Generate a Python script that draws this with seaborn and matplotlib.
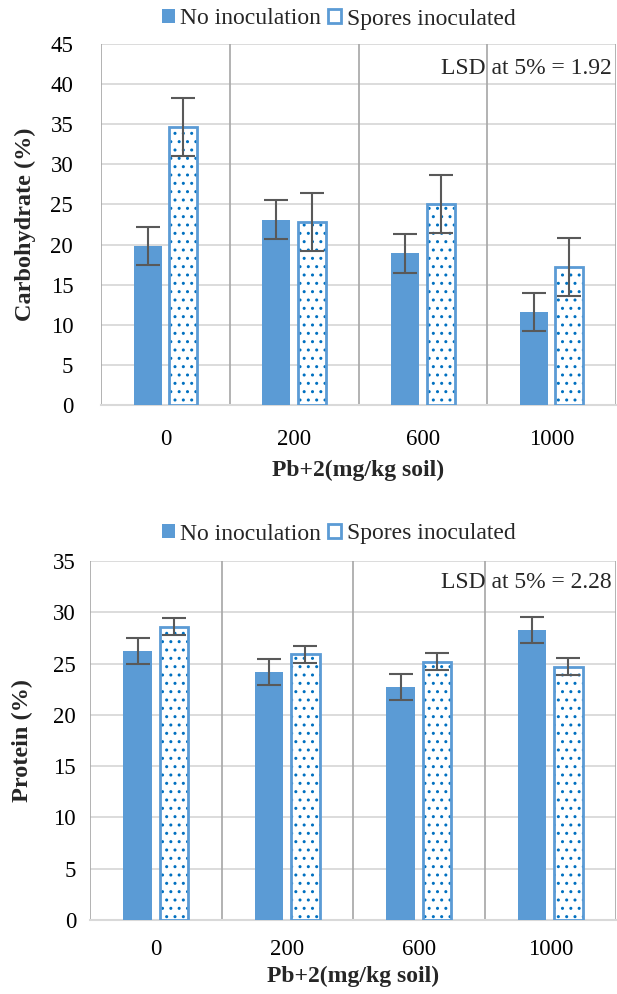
import numpy as np
import pandas as pd
import matplotlib
matplotlib.use("Agg")
import matplotlib.pyplot as plt
from matplotlib.patches import Rectangle
import seaborn as sns

# ---- data ----
doses = ["0", "200", "600", "1000"]
groups = ["No inoculation", "Spores inoculated"]

carb_no = [19.8, 23.1, 18.9, 11.6]
carb_sp = [34.7, 22.8, 25.1, 17.2]
carb_no_err = [2.4, 2.4, 2.4, 2.4]
carb_sp_err = [3.6, 3.6, 3.6, 3.6]

prot_no = [26.2, 24.2, 22.7, 28.3]
prot_sp = [28.6, 25.9, 25.2, 24.7]
prot_no_err = [1.25, 1.25, 1.25, 1.25]
prot_sp_err = [0.85, 0.85, 0.85, 0.85]

lsd_carb = "LSD at 5% = 1.92"
lsd_prot = "LSD at 5% = 2.28"

FILL = "#5B9BD5"
DOT = "#0070C0"
ERR = "#595959"
GRID = "#D9D9D9"
SEP = "#A6A6A6"

sns.set_theme(style="white")
plt.rcParams["font.family"] = ["Liberation Serif", "DejaVu Serif"]
plt.rcParams["hatch.linewidth"] = 1.0
plt.rcParams["hatch.color"] = DOT

W, H = 617, 994
fig = plt.figure(figsize=(W / 100, H / 100), dpi=100)


def panel(rect, no, sp, no_err, sp_err, ymax, ystep, ylabel, lsd, lsd_y,
          legend_y, ylab_x, ypad, xpad, xlabpad):
    ax = fig.add_axes(rect)
    df = pd.DataFrame({
        "dose": doses * 2,
        "group": [groups[0]] * 4 + [groups[1]] * 4,
        "value": list(no) + list(sp),
    })
    sns.barplot(data=df, x="dose", y="value", hue="group", order=doses,
                hue_order=groups, palette=[FILL, "white"], errorbar=None,
                width=0.55, gap=0.0, ax=ax, legend=False, zorder=3)
    c_no, c_sp = ax.containers[0], ax.containers[1]
    for cont in (c_no, c_sp):
        for p in cont.patches:
            cx = p.get_x() + p.get_width() / 2
            nw = p.get_width() * 0.79
            p.set_x(cx - nw / 2)
            p.set_width(nw)
    for p in c_no.patches:
        p.set_facecolor(FILL)
        p.set_edgecolor("none")
        p.set_linewidth(0)
    for p in c_sp.patches:
        p.set_facecolor("white")
        p.set_hatch("..")
        p.set_edgecolor(DOT)
        p.set_linewidth(0)
        ax.add_patch(Rectangle((p.get_x(), p.get_y()), p.get_width(), p.get_height(),
                               fill=False, edgecolor=FILL, linewidth=2.0, zorder=4))
    for cont, vals, errs in ((c_no, no, no_err), (c_sp, sp, sp_err)):
        xs = [p.get_x() + p.get_width() / 2 for p in cont.patches]
        ax.errorbar(xs, vals, yerr=errs, fmt="none", ecolor=ERR, elinewidth=1.5,
                    capsize=8.5, capthick=1.5, zorder=5)

    ax.set_xlim(-0.5, len(doses) - 0.5)
    ax.set_ylim(0, ymax)
    ax.set_yticks(np.arange(0, ymax + 0.01, ystep))
    for yv in np.arange(ystep, ymax + 0.01, ystep):
        ax.axhline(yv, color=GRID, lw=1.3, zorder=1)
    for xv in np.arange(-0.5, len(doses), 1.0):
        ax.axvline(xv, color=SEP, lw=1.2, zorder=2)
    for s in ("top", "right", "left"):
        ax.spines[s].set_visible(False)
    ax.spines["bottom"].set_color(GRID)
    ax.spines["bottom"].set_linewidth(1.5)
    ax.tick_params(axis="both", length=0, labelsize=16.5, colors="black")
    ax.tick_params(axis="x", pad=xpad)
    ax.tick_params(axis="y", pad=ypad)
    ax.set_xlabel("Pb+2(mg/kg soil)", fontsize=17, fontweight="bold", labelpad=xlabpad)
    ax.set_ylabel("")
    bb = ax.get_position()
    fig.text(ylab_x / W, bb.y0 + bb.height / 2, ylabel, rotation=90, ha="center",
             va="center", fontsize=17.5, fontweight="bold")
    ax.text(len(doses) - 0.53, lsd_y, lsd, ha="right", va="center", fontsize=17, zorder=6)

    h1 = Rectangle((0, 0), 1, 1, facecolor=FILL, edgecolor="none")
    h2 = Rectangle((0, 0), 1, 1, facecolor="white", edgecolor=FILL, linewidth=2.0)
    fig.legend([h1, h2], groups, loc="center", bbox_to_anchor=(0.549, legend_y),
               ncol=2, frameon=False, fontsize=17, handlelength=0.55,
               handleheight=0.55, handletextpad=0.22, columnspacing=0.3,
               borderpad=0.0)
    return ax


ax1 = panel([101 / W, (H - 405) / H, 515 / W, 361 / H], carb_no, carb_sp,
            carb_no_err, carb_sp_err, 45, 5, "Carbohydrate (%)", lsd_carb, 42.0,
            1 - 19 / H, 25, 20, 17, 7)
ax2 = panel([90 / W, (H - 920) / H, 526 / W, 359 / H], prot_no, prot_sp,
            prot_no_err, prot_sp_err, 35, 5, "Protein (%)", lsd_prot, 32.9,
            1 - 534 / H, 22, 10, 14, 4)

fig.savefig("out.png", dpi=100)
